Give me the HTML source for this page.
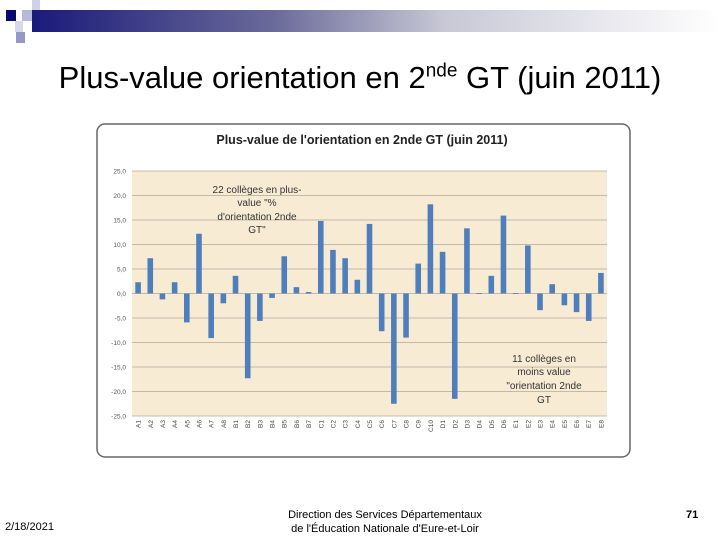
<!DOCTYPE html>
<html><head><meta charset="utf-8"><style>
body{margin:0;width:720px;height:540px;background:#fff;position:relative;overflow:hidden;font-family:"Liberation Sans",sans-serif}
.a{position:absolute}
</style></head><body>
<div class="a" style="left:32px;top:10px;width:688px;height:22px;background:linear-gradient(to right,#1a1a7a,#6a6a9a 35%,#c8c8d6 60%,#fff 100%)"></div>
<div class="a" style="left:6px;top:10px;width:10px;height:11px;background:#0a0a6e"></div>
<div class="a" style="left:22px;top:10px;width:10px;height:11px;background:#b8b8da"></div>
<div class="a" style="left:32px;top:0px;width:8px;height:10px;background:#d0d0e8"></div>
<div class="a" style="left:15px;top:21px;width:8px;height:11px;background:#d8d8ec"></div>
<div class="a" style="left:16px;top:32px;width:9px;height:11px;background:#9898c4"></div>
<div class="a" style="left:0;width:720px;top:60px;text-align:center;font-size:31px;color:#000;white-space:nowrap">Plus-value orientation en 2<sup style="font-size:19px">nde</sup> GT (juin 2011)</div>

<svg class="a" style="left:0;top:0" width="720" height="540">
<rect x="97" y="124" width="533" height="333" rx="8" fill="#fff" stroke="#666" stroke-width="1.5"/>
<text x="362" y="144" text-anchor="middle" font-size="12.5" font-weight="bold" fill="#222" font-family="Liberation Sans,sans-serif">Plus-value de l'orientation en 2nde GT (juin 2011)</text>
<rect x="132" y="171" width="475" height="245" fill="#f8ebd3"/>
<g id="grid"></g><g id="bars"></g><g id="xl"></g>
<text font-size="10" fill="#333" text-anchor="middle" font-family="Liberation Sans,sans-serif"><tspan x="257" y="193">22 collèges en plus-</tspan><tspan x="257" y="206">value "%</tspan><tspan x="257" y="220">d'orientation 2nde</tspan><tspan x="257" y="233">GT"</tspan></text>
<text font-size="10" fill="#333" text-anchor="middle" font-family="Liberation Sans,sans-serif"><tspan x="544" y="362">11 collèges en</tspan><tspan x="544" y="375">moins value</tspan><tspan x="544" y="389">"orientation 2nde</tspan><tspan x="544" y="403">GT</tspan></text>
</svg>

<div class="a" style="left:5px;top:521px;font-size:11px">2/18/2021</div>
<div class="a" style="left:235px;width:300px;top:508px;font-size:11px;text-align:center;line-height:14px">Direction des Services Départementaux<br>de l'Éducation Nationale d'Eure-et-Loir</div>
<div class="a" style="left:686px;top:509px;font-size:11px;font-weight:bold">71</div>
<script>
const categories=["A1","A2","A3","A4","A5","A6","A7","A8","B1","B2","B3","B4","B5","B6","B7","C1","C2","C3","C4","C5","C6","C7","C8","C9","C10","D1","D2","D3","D4","D5","D6","E1","E2","E3","E4","E5","E6","E7","E8"];
const values=[2.3,7.2,-1.2,2.3,-5.9,12.2,-9.1,-2.0,3.6,-17.3,-5.6,-0.9,7.6,1.3,0.3,14.8,8.9,7.2,2.8,14.2,-7.7,-22.5,-9.0,6.1,18.2,8.5,-21.5,13.3,0.1,3.6,15.9,0.1,9.8,-3.4,1.9,-2.4,-3.8,-5.6,4.2];
const yTicks=[25,20,15,10,5,0,-5,-10,-15,-20,-25];
const NS="http://www.w3.org/2000/svg";
const X0=132,X1=607,Y0=171,Y1=416,yMin=-25,yMax=25;
const y=v=>Y0+(yMax-v)/(yMax-yMin)*(Y1-Y0);
const step=(X1-X0)/categories.length;
const x=i=>X0+step*(i+0.5);
function mk(t,a,p){const e=document.createElementNS(NS,t);for(const k in a)e.setAttribute(k,a[k]);p.appendChild(e);return e;}
const g=document.getElementById('grid');
yTicks.forEach(t=>{
  const l=mk('line',{x1:X0,x2:X1,y1:y(t),y2:y(t),stroke:'#b0a898','stroke-width':0.8},g);
  
  
  const tx=mk('text',{x:126,y:y(t)+2.5,'font-size':6.5,'text-anchor':'end',fill:'#555','font-family':'Liberation Sans,sans-serif'},g);
  tx.textContent=t.toFixed(1).replace('.',',');
  
  
});
const b=document.getElementById('bars');
values.forEach((v,i)=>{
  const r=mk('rect',{x:x(i)-2.8,width:5.6,y:Math.min(y(v),y(0)),height:Math.max(Math.abs(y(v)-y(0)),0.8),fill:'#4f7ebc'},b);
  
  
});
const xl=document.getElementById('xl');
categories.forEach((c,i)=>{
  const t=mk('text',{x:0,y:0,'font-size':6.5,'text-anchor':'end',fill:'#444','font-family':'Liberation Sans,sans-serif',transform:`translate(${x(i)+2.5},420) rotate(-90)`},xl);
  t.textContent=c;
  
  
});
</script>
</body></html>
